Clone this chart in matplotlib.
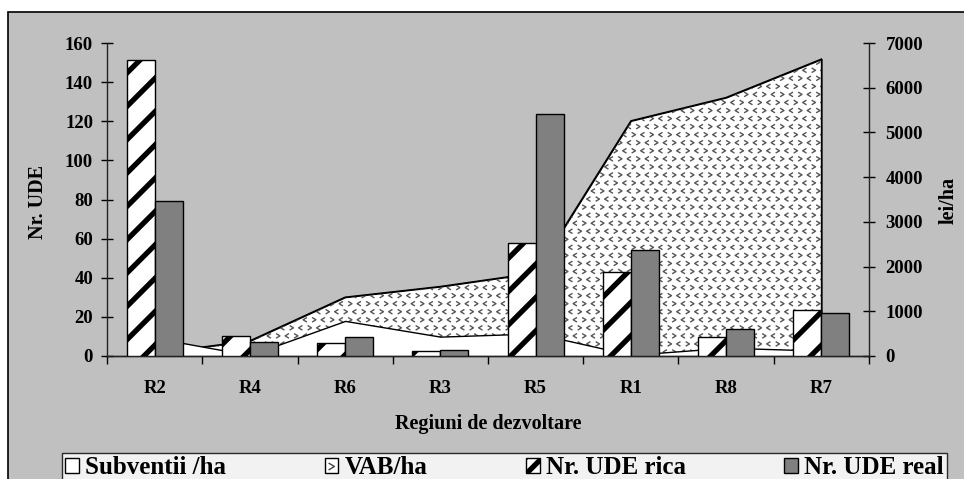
import numpy as np
import matplotlib
matplotlib.use("Agg")
import matplotlib.pyplot as plt
from matplotlib.patches import Patch, Rectangle
from matplotlib.lines import Line2D
from matplotlib.path import Path
from matplotlib.legend_handler import HandlerTuple

# data
regiuni = ["R2", "R4", "R6", "R3", "R5", "R1", "R8", "R7"]
ude_rica = [151.3, 10.4, 6.5, 2.6, 57.8, 42.9, 9.7, 23.6]
ude_real = [79.2, 7.2, 9.6, 3.1, 123.6, 54.0, 13.7, 22.2]
vab_ha = [60, 340, 1316, 1555, 1860, 5260, 5782, 6640]
subv_ha = [404, 20, 785, 433, 505, 25, 185, 120]

plt.rcParams['font.family'] = ['Liberation Serif', 'DejaVu Serif']
plt.rcParams['font.weight'] = 'bold'
plt.rcParams['hatch.linewidth'] = 3.8
plt.rcParams['hatch.color'] = 'black'

grey_bg = '#c0c0c0'
bar_grey = '#808080'

fig = plt.figure(figsize=(9.64, 4.79), dpi=100, facecolor='white')
# grey chart area with black frame
fig.patches.append(Rectangle((8/964, -0.05), 1.0, (479-12)/479 + 0.05, transform=fig.transFigure,
                             facecolor=grey_bg, edgecolor='black', lw=1.2, zorder=-5))

ax = fig.add_axes([107/964, (479-356)/479, 762/964, 313/479])
ax2 = ax.twinx()
ax2.set_zorder(1)
ax.set_zorder(2)
ax.patch.set_visible(False)
ax2.patch.set_facecolor('white')

x = np.arange(len(regiuni))

# areas on the secondary axis
vab_fill = ax2.fill_between(x, 0, vab_ha, facecolor='white', edgecolor='black', lw=1.0, zorder=1)

# chevron texture for VAB
chev_l = Path([(0.5, 0.6), (-0.5, 0), (0.5, -0.6)], [Path.MOVETO, Path.LINETO, Path.LINETO])
chev_r = Path([(-0.5, 0.6), (0.5, 0), (-0.5, -0.6)], [Path.MOVETO, Path.LINETO, Path.LINETO])
dx, dy = 0.0945, 180.0
gy = np.arange(dy / 2, 7000, dy)
gx = np.arange(-0.5, 7.6, dx)
GX, GY = np.meshgrid(gx, gy)
row = np.arange(len(gy))[:, None] * np.ones_like(GX)
col = np.ones_like(GY) * np.arange(len(gx))[None, :]
GX = GX + (row % 2) * dx / 2
left_mask = ((col + row) % 2) == 0
clip = vab_fill.get_paths()[0]
for mask, mk in [(left_mask, chev_l), (~left_mask, chev_r)]:
    sc = ax2.scatter(GX[mask], GY[mask], marker=mk, s=11, facecolors='none',
                     edgecolors='#555555', linewidths=1.0, zorder=2)
    sc.set_clip_path(clip, transform=ax2.transData)
ax2.plot(x, vab_ha, color='black', lw=1.0, zorder=3)
ax2.plot([x[-1], x[-1]], [0, vab_ha[-1]], color='black', lw=1.0, zorder=3)

ax2.fill_between(x, 0, subv_ha, facecolor='white', edgecolor='black', lw=1.0, zorder=4)

# bars on the primary axis
w = 0.294
ax.bar(x - w/2, ude_rica, w, facecolor='white', edgecolor='black', hatch='/', lw=1.0, zorder=3)
ax.bar(x + w/2, ude_real, w, facecolor=bar_grey, edgecolor='black', lw=1.0, zorder=3)

ax.set_xlim(-0.5, len(regiuni) - 0.5)
ax.set_ylim(0, 160)
ax.set_yticks(np.arange(0, 161, 20))
ax2.set_ylim(0, 7000)
ax2.set_yticks(np.arange(0, 7001, 1000))

ax.set_xticks(x)
ax.set_xticklabels(regiuni)
ax.set_xticks(np.arange(-0.5, len(regiuni), 1.0), minor=True)
ax.tick_params(axis='x', which='major', length=0, pad=17, labelsize=13.5)
ax.tick_params(axis='x', which='minor', length=6, direction='out', width=1)
ax.tick_params(axis='y', length=8, direction='inout', width=1, labelsize=13.5, pad=6)
ax2.tick_params(axis='y', length=8, direction='inout', width=1, labelsize=13.5, pad=8)

for a in (ax, ax2):
    a.spines['top'].set_visible(False)
    for s in ('left', 'right', 'bottom'):
        a.spines[s].set_color('#222222')
        a.spines[s].set_linewidth(1.0)
ax.spines['right'].set_visible(False)
ax2.spines['left'].set_visible(False)

fig.text(38/964, 1 - 202/479, 'Nr. UDE', rotation=90, ha='center', va='center', fontsize=14.5)
fig.text(949/964, 1 - 200/479, 'lei/ha', rotation=90, ha='center', va='center', fontsize=14.5)
fig.text(488/964, 1 - 424/479, 'Regiuni de dezvoltare', ha='center', va='center', fontsize=14.5)

handles = [
    Patch(facecolor='white', edgecolor='black'),
    (Patch(facecolor='white', edgecolor='black'),
     Line2D([], [], marker=chev_r, ls='none', markersize=5, markeredgecolor='#444444', markerfacecolor='none')),
    Patch(facecolor='white', edgecolor='black', hatch='//'),
    Patch(facecolor=bar_grey, edgecolor='black'),
]
labels = ['Subventii /ha', 'VAB/ha', 'Nr. UDE rica', 'Nr. UDE real']
leg = fig.legend(handles, labels, loc='upper left', ncol=4, mode='expand',
                 bbox_to_anchor=(62/964, 0, (947-62)/964, 1 - 453/479),
                 fontsize=18, frameon=True, fancybox=False, handlelength=0.55, handleheight=0.55,
                 handletextpad=0.25, borderpad=0.12, borderaxespad=0,
                 handler_map={tuple: HandlerTuple(ndivide=1)})
leg.get_frame().set_edgecolor('black')
leg.get_frame().set_linewidth(1.0)
leg.get_frame().set_facecolor('white')

fig.savefig('out.png', dpi=100, facecolor=fig.get_facecolor())
